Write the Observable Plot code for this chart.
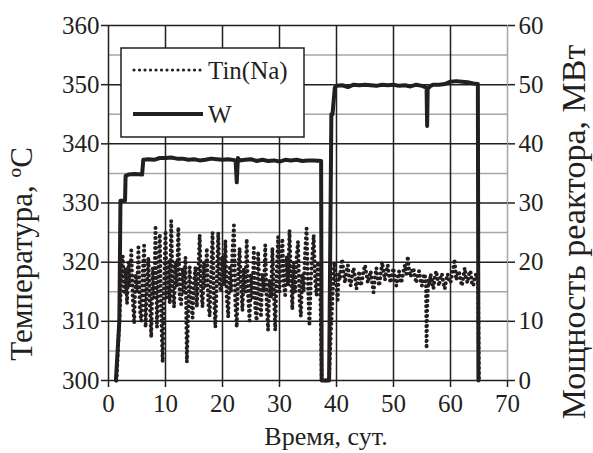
<!DOCTYPE html>
<html>
<head>
<meta charset="utf-8">
<script src="https://cdn.jsdelivr.net/npm/d3@7"></script>
<script src="https://cdn.jsdelivr.net/npm/@observablehq/plot@0.6"></script>
<style>
  html, body { margin: 0; padding: 0; background: #fff; }
  #chart { width: 593px; height: 453px; }
</style>
</head>
<body>
<div id="chart"></div>
<script>
// ---- Data ----
const xTicks = [0, 10, 20, 30, 40, 50, 60, 70];
const tempTicks = [300, 310, 320, 330, 340, 350, 360];
const tempMinor = [305, 315, 325, 335, 345, 355];
const powerTicks = [0, 10, 20, 30, 40, 50, 60];

const seriesNames = ["Tin(Na)", "W"];
const xLabel = "Время, сут.";
const yLabelLeft = "Температура, ºC";
const yLabelRight = "Мощность реактора, МВт";

// Tin(Na), temperature (°C), days
const tinDays = [1.4, 1.7, 2.0, 2.3, 2.5, 2.75,
  3.0, 3.25, 3.5, 3.75, 4.0, 4.25, 4.5, 4.75, 5.0, 5.25, 5.5, 5.75, 6.0, 6.25, 6.5, 6.75,
  7.0, 7.25, 7.5, 7.75, 8.0, 8.25, 8.5, 8.75, 9.0, 9.25, 9.5, 9.75, 10.0, 10.25, 10.5, 10.75,
  11.0, 11.25, 11.5, 11.75, 12.0, 12.25, 12.5, 12.75, 13.0, 13.25, 13.5, 13.75, 14.0, 14.25, 14.5, 14.75,
  15.0, 15.25, 15.5, 15.75, 16.0, 16.25, 16.5, 16.75, 17.0, 17.25, 17.5, 17.75, 18.0, 18.25, 18.5, 18.75,
  19.0, 19.25, 19.5, 19.75, 20.0, 20.25, 20.5, 20.75, 21.0, 21.25, 21.5, 21.75, 22.0, 22.25, 22.5, 22.75,
  23.0, 23.25, 23.5, 23.75, 24.0, 24.25, 24.5, 24.75, 25.0, 25.25, 25.5, 25.75, 26.0, 26.25, 26.5, 26.75,
  27.0, 27.25, 27.5, 27.75, 28.0, 28.25, 28.5, 28.75, 29.0, 29.25, 29.5, 29.75, 30.0, 30.25, 30.5, 30.75,
  31.0, 31.25, 31.5, 31.75, 32.0, 32.25, 32.5, 32.75, 33.0, 33.25, 33.5, 33.75, 34.0, 34.25, 34.5, 34.75,
  35.0, 35.25, 35.5, 35.75, 36.0, 36.25, 36.5, 36.75, 37.0, 37.2, 37.4,
  38.7, 39.0, 39.3, 39.6, 39.8, 40.0, 40.2, 40.4, 40.6, 40.8,
  41.0, 41.25, 41.5, 41.75, 42.0, 42.25, 42.5, 42.75, 43.0, 43.25, 43.5, 43.75, 44.0, 44.25, 44.5, 44.75,
  45.0, 45.25, 45.5, 45.75, 46.0, 46.25, 46.5, 46.75, 47.0, 47.25, 47.5, 47.75, 48.0, 48.25, 48.5, 48.75,
  49.0, 49.25, 49.5, 49.75, 50.0, 50.25, 50.5, 50.75, 51.0, 51.25, 51.5, 51.75, 52.0, 52.25, 52.5, 52.75,
  53.0, 53.25, 53.5, 53.75, 54.0, 54.25, 54.5, 54.75, 55.0, 55.25, 55.5, 55.7, 55.8, 55.9, 56.1, 56.3, 56.5, 56.75,
  57.0, 57.25, 57.5, 57.75, 58.0, 58.25, 58.5, 58.75, 59.0, 59.25, 59.5, 59.75, 60.0, 60.3, 60.5, 60.7,
  61.0, 61.25, 61.5, 61.75, 62.0, 62.25, 62.5, 62.75, 63.0, 63.25, 63.5, 63.75, 64.0, 64.25, 64.5, 64.7, 64.85, 65.0];
const tinValues = [300, 306, 312, 318, 321, 315,
  319, 313, 320, 316, 322, 314, 309.6, 318, 315, 322.5, 312, 310, 318, 322.8, 309, 316,
  320.8, 313, 307.3, 319, 314, 326.2, 309, 317, 324.8, 311, 303.1, 316, 325.3, 314, 320, 313,
  327, 316, 312.4, 320, 316, 325.9, 314, 312.9, 319, 315, 320.8, 303.1, 312, 319.2, 313, 310.6,
  317, 319.2, 312.4, 318, 324.6, 315, 312.4, 320, 316, 322.4, 313, 310.9, 318, 325, 314, 309,
  317, 325, 316, 315, 321, 316, 323.7, 314, 310.7, 319, 315, 322, 326.2, 313, 309, 318,
  322.4, 316, 311.8, 319, 315, 323.9, 314, 310.1, 318, 314, 322.4, 312, 310.1, 321.8, 315, 310.7,
  318, 315, 322.9, 313, 308.5, 317, 314, 322.4, 315, 308.5, 318, 324.3, 315, 320, 324, 316,
  314.4, 321, 316, 325.4, 318, 312, 320, 315, 321, 323.5, 314, 310.8, 318, 315, 322, 325.7,
  316, 309.2, 317, 321, 324.6, 317, 314.4, 320, 319, 313, 300,
  300, 308, 314, 320, 317, 316, 313.6, 318, 317, 319.5,
  320.5, 318, 316.5, 318.5, 319.5, 317, 316, 318, 319, 317.5, 315.5, 317, 318.5, 316, 317, 318.5,
  319.5, 318, 316.5, 317.5, 318.5, 316.5, 314.9, 317.5, 319, 317, 316, 318, 320, 318.5, 317, 318.5,
  319.5, 317.5, 316.5, 318, 319, 317, 316, 317.5, 318.5, 316.5, 317, 318.5, 319.5, 318, 321, 318.5,
  317.5, 318.5, 319, 317.5, 316.5, 318, 318.5, 317, 316, 317.5, 318, 316, 305.4, 312, 317, 316, 318, 317,
  315.5, 317.5, 318.5, 317, 316, 317.5, 318, 316.5, 315.5, 317, 318, 317, 316.5, 318, 319, 320.5,
  317, 318, 318.5, 317, 316, 317.5, 319, 317, 316.5, 318, 318.5, 316.5, 316, 317.5, 318, 317, 316, 300];

// W, reactor power (MW), days
const wDays = [1.3, 1.9, 2.1, 2.9, 3.0, 3.5, 4.5, 5.9, 6.1, 7, 8, 9, 10, 11, 12, 13, 14, 15, 16, 17, 18, 19, 20, 21,
  22.3, 22.5, 22.7, 23, 24, 25, 26, 27, 28, 29, 30, 31, 32, 33, 34, 35, 36, 37.3, 37.4, 38.7, 39.1, 39.3, 39.7,
  40, 41, 42, 43, 44, 45, 46, 47, 48, 49, 50, 51, 52, 53, 54, 55, 55.8, 55.9, 56.0, 56.5, 57, 58, 59, 60, 61, 62, 63, 64, 64.8, 64.9];
const wValues = [0, 10, 30.4, 30.4, 34.6, 34.8, 34.9, 34.8, 37.3, 37.4, 37.3, 37.6, 37.6, 37.7, 37.5, 37.5, 37.3, 37.4, 37.2, 37.3, 37.5, 37.4, 37.3, 37.4,
  37.2, 33.5, 37.6, 37.2, 37.3, 37.4, 37.1, 37.3, 37.1, 37.2, 37.0, 37.3, 37.2, 37.3, 37.1, 37.2, 37.2, 37.1, 0, 0, 45, 45, 49.5,
  49.8, 49.9, 49.6, 50, 49.9, 50.0, 49.9, 49.8, 50, 49.9, 50, 49.8, 49.9, 49.7, 50, 49.8, 49.5, 43, 49.3, 49.8, 50, 50, 50.1, 50.5, 50.6, 50.5, 50.4, 50.2, 50.1, 0];

const tinData = tinDays.map((d, i) => ({day: d, value: tinValues[i]}));
const wData = wDays.map((d, i) => ({day: d, value: wValues[i]}));

// power axis (0..60) shares the temperature axis positions (300..360)
const powerToTemp = p => p + 300;

const ink = "#231f20";
const gray = "#a6a6a6";
const W = 593, H = 453;
const mL = 108, mR = 86, mT = 25, mB = 73;
const font = "'Liberation Serif', 'Times New Roman', serif";

const chart = Plot.plot({
  width: W, height: H,
  marginLeft: mL, marginRight: mR, marginTop: mT, marginBottom: mB,
  x: {domain: [0, 70]},
  y: {domain: [300, 360]},
  style: {fontFamily: font, fontSize: "25px", color: ink, background: "#fff"},
  marks: [
    Plot.gridY(tempMinor, {stroke: gray, strokeOpacity: 1, strokeWidth: 1.5}),
    Plot.gridX([70], {stroke: gray, strokeOpacity: 1, strokeWidth: 1.5}),
    Plot.gridX(xTicks.filter(v => v < 70), {stroke: ink, strokeOpacity: 1, strokeWidth: 1.5}),
    Plot.gridY(tempTicks, {stroke: ink, strokeOpacity: 1, strokeWidth: 1.5}),
    Plot.axisY(tempTicks, {anchor: "left", tickSize: 7, tickPadding: 2, stroke: ink, strokeWidth: 1.5, label: null}),
    Plot.axisY(tempTicks, {anchor: "right", tickSize: 7, tickPadding: 4, stroke: ink, strokeWidth: 1.5, label: null,
      tickFormat: v => String(powerTicks[tempTicks.indexOf(v)])}),
    Plot.axisX(xTicks, {anchor: "bottom", tickSize: 7, tickPadding: 7, stroke: ink, strokeWidth: 1.5, label: null}),
    Plot.line(tinData, {x: "day", y: "value", stroke: ink, strokeWidth: 4,
      strokeDasharray: "0 5", strokeLinecap: "round", strokeLinejoin: "round"}),
    Plot.line(wData, {x: "day", y: d => powerToTemp(d.value), stroke: ink, strokeWidth: 4,
      strokeLinejoin: "round"})
  ]
});

document.getElementById("chart").appendChild(chart);

// ---- Titles & legend ----
const svg = d3.select(chart);

svg.append("text").attr("x", 326).attr("y", 445).attr("text-anchor", "middle")
  .attr("font-family", font).attr("font-size", 26).attr("fill", ink).text(xLabel);

svg.append("text").attr("transform", `translate(32,254) rotate(-90)`).attr("text-anchor", "middle")
  .attr("font-family", font).attr("font-size", 31).attr("fill", ink).text(yLabelLeft);

svg.append("text").attr("transform", `translate(585,232) rotate(-90)`).attr("text-anchor", "middle")
  .attr("font-family", font).attr("font-size", 34).attr("fill", ink).text(yLabelRight);

const lg = svg.append("g");
lg.append("rect").attr("x", 121).attr("y", 48).attr("width", 183).attr("height", 89)
  .attr("fill", "#fff").attr("stroke", ink).attr("stroke-width", 1.5);
lg.append("line").attr("x1", 134).attr("x2", 201).attr("y1", 70).attr("y2", 70)
  .attr("stroke", ink).attr("stroke-width", 3.2).attr("stroke-dasharray", "0 5.5").attr("stroke-linecap", "round");
lg.append("text").attr("x", 208).attr("y", 79).attr("text-anchor", "start").attr("font-family", font).attr("font-size", 25)
  .attr("fill", ink).text(seriesNames[0]);
lg.append("line").attr("x1", 133).attr("x2", 203).attr("y1", 114).attr("y2", 114)
  .attr("stroke", ink).attr("stroke-width", 4);
lg.append("text").attr("x", 208).attr("y", 123).attr("text-anchor", "start").attr("font-family", font).attr("font-size", 25)
  .attr("fill", ink).text(seriesNames[1]);
</script>
</body>
</html>
